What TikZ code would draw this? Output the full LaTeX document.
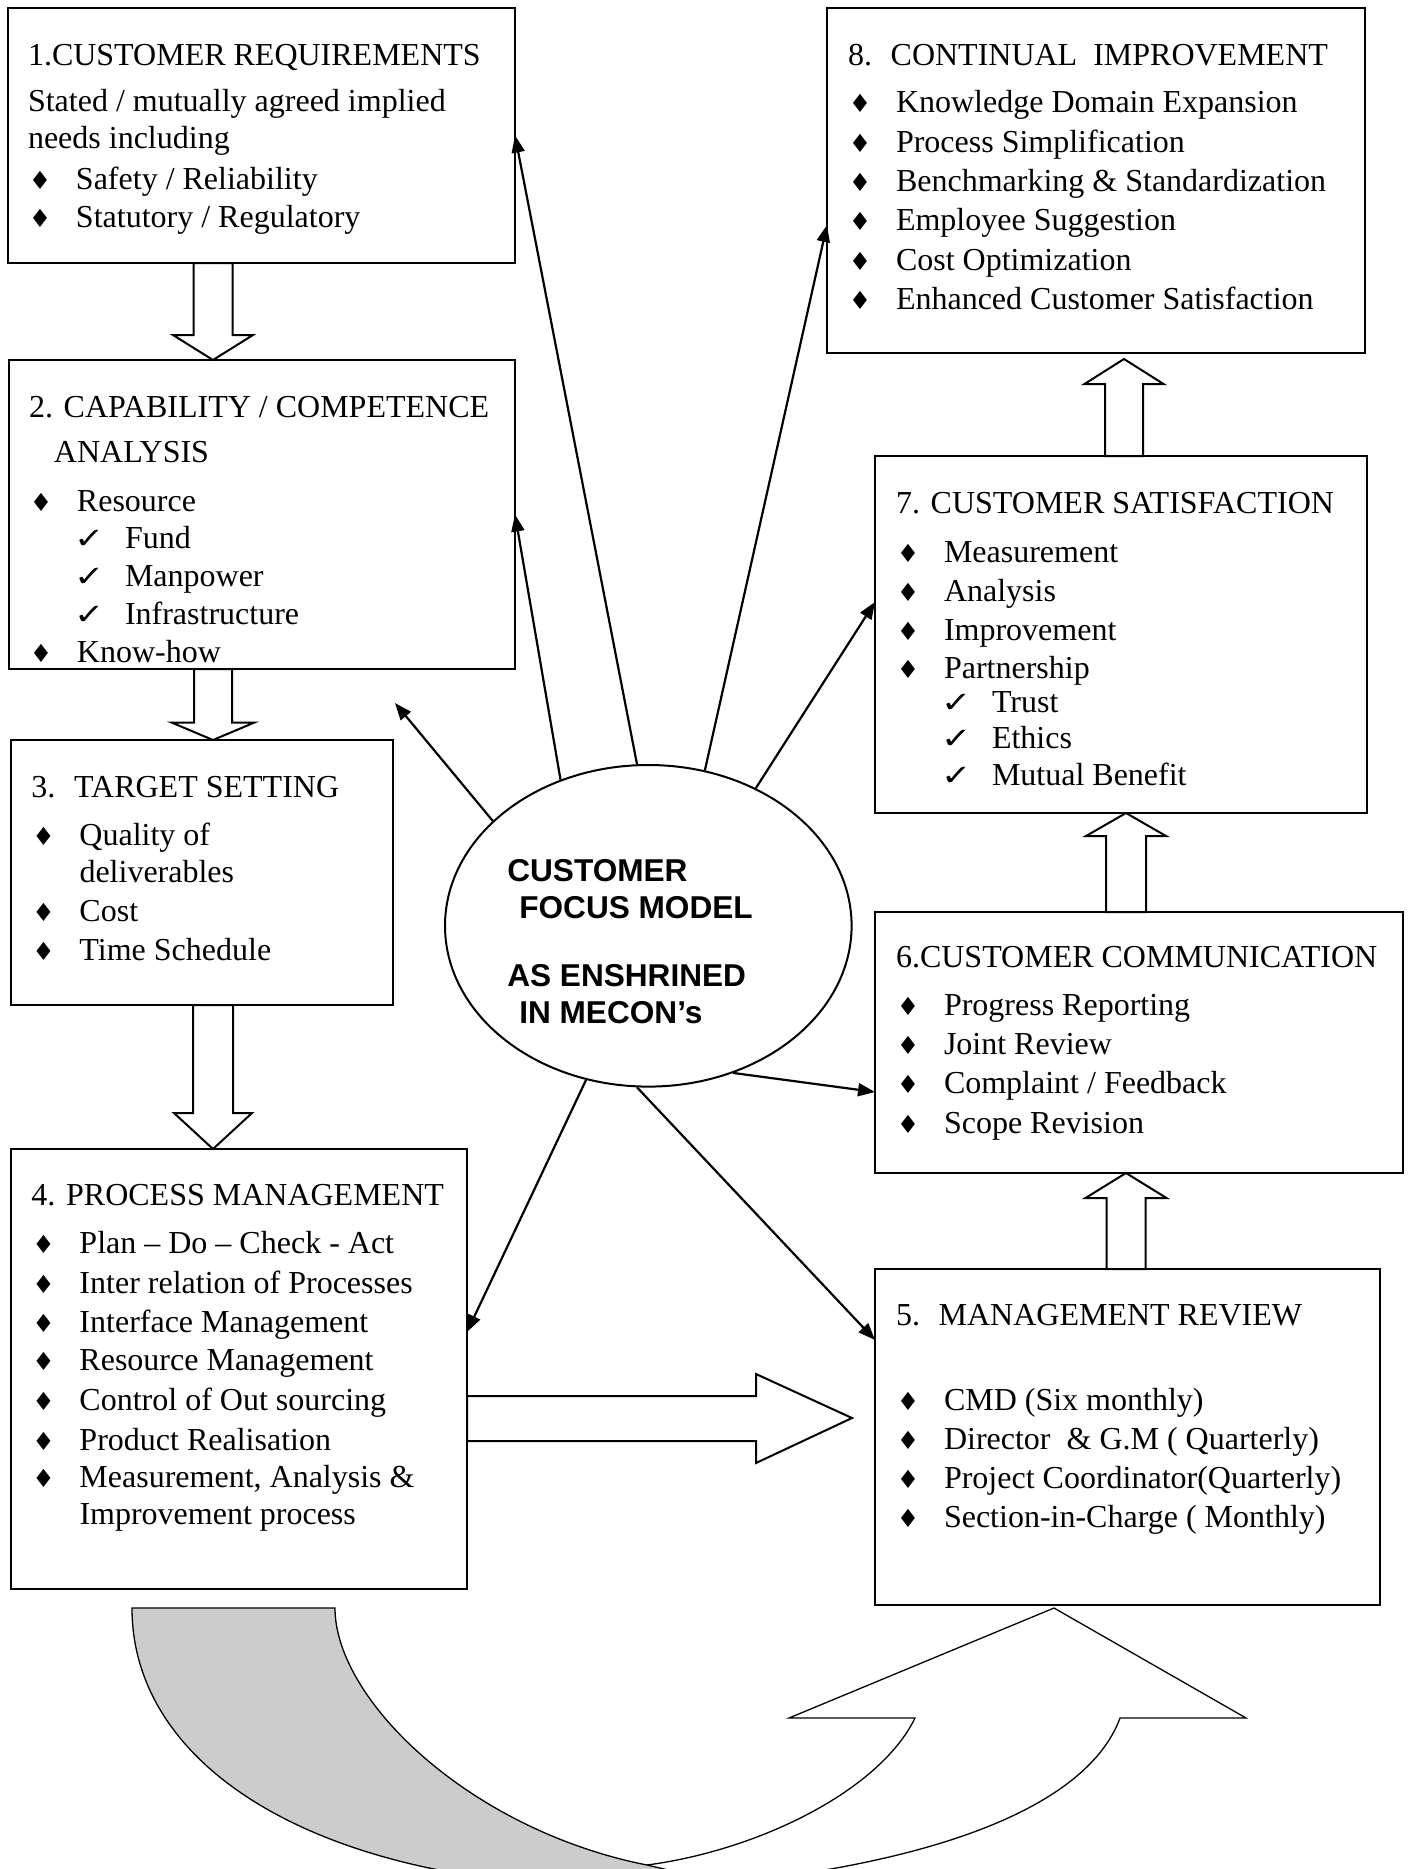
\documentclass[tikz,border=0pt]{standalone}
\usepackage{fontspec}
\setmainfont{Liberation Serif}
\setsansfont{Liberation Sans}
\newfontfamily\mysymf{DejaVu Sans}
\usetikzlibrary{shapes.geometric,arrows.meta,calc}
\newcommand\mydia{{\mysymf\fontsize{12.5pt}{12.5pt}\selectfont ♦}}
\newcommand\mychk{\scalebox{1.25}[1]{\mysymf\fontsize{14.5pt}{14.5pt}\selectfont ✓}}
\newcommand\mybul{\makebox[12pt]{\mydia}\hspace{12pt}}
\newcommand\myckl{\hspace{24.5pt}\makebox[12pt]{\mychk}\hspace{11.5pt}}
\newcommand\mytl[4]{\node[txt] (#1) at (#2,#3) {#4};}
\newcommand\myvarrow[6]{\draw[blk] ({#1-#5},#2) -- ({#1-#5},#3) -- ({#1-#6},#3) -- (#1,#4) -- ({#1+#6},#3) -- ({#1+#5},#3) -- ({#1+#5},#2) -- cycle;}
\begin{document}
\begin{tikzpicture}[x=0.5pt,y=-0.5pt,
  box/.style={draw,line width=1pt,rectangle,inner sep=0pt,outer sep=0pt},
  txt/.style={anchor=base west,inner sep=0pt,outer sep=0pt,font=\fontsize{16pt}{19pt}\selectfont},
  ctx/.style={anchor=base west,inner sep=0pt,outer sep=0pt,font=\sffamily\bfseries\fontsize{15.8pt}{19pt}\selectfont},
  con/.style={line width=1.1pt,-{Triangle[length=8.5pt,width=6.5pt]}},
  blk/.style={draw,line width=1pt,fill=white,line join=miter},
  crv/.style={draw,line width=0.65pt}]
\useasboundingbox (0,0) rectangle (1411,1869);
\clip (0,0) rectangle (1411,1869);

% curved U-turn arrow at bottom
\path[crv,fill=white] (647,1865) .. controls (760,1850) and (880,1790) .. (915,1718) -- (789,1718) -- (1054,1608) -- (1246,1718) -- (1120,1718) .. controls (1090,1800) and (950,1870) .. (650,1890) -- (640,1900) -- cycle;
\path[crv,fill=black!20] (132,1608) .. controls (132,1760) and (300,1870) .. (560,1885) -- (560,1910) -- (800,1910) -- (780,1896) -- (647,1865) .. controls (470,1830) and (335,1700) .. (335,1608) -- cycle;

% boxes
\node[box,minimum width=253.5pt,minimum height=127.5pt] (b1) at (261.5,135.5) {};
\node[box,minimum width=253pt,minimum height=154.5pt] (b2) at (262,514.5) {};
\node[box,minimum width=191pt,minimum height=132.5pt] (b3) at (202,872.5) {};
\node[box,minimum width=228pt,minimum height=220pt] (b4) at (239,1369) {};
\node[box,minimum width=252.5pt,minimum height=168pt] (b5) at (1127.5,1437) {};
\node[box,minimum width=264pt,minimum height=130.5pt] (b6) at (1139,1042.5) {};
\node[box,minimum width=246pt,minimum height=178.5pt] (b7) at (1121,634.5) {};
\node[box,minimum width=269pt,minimum height=172.5pt] (b8) at (1096,180.5) {};

% centre ellipse
\node[draw,ellipse,line width=1pt,minimum width=203.3pt,minimum height=160.8pt,inner sep=0pt] (ell) at (648.3,925.8) {};
\node[ctx] (e1) at (507.3,881.7) {CUSTOMER};
\node[ctx] (e2) at (519.3,918.3) {FOCUS MODEL};
\node[ctx] (e3) at (507.3,986.7) {AS ENSHRINED};
\node[ctx] (e4) at (519.3,1023.3) {IN MECON’s};

% block arrows
\myvarrow{213}{263}{335}{360}{19.5}{40}
\myvarrow{213}{669}{722.7}{740}{19}{41}
\myvarrow{213}{1005}{1113}{1149}{20}{39}
\myvarrow{1126}{1269}{1198}{1173}{19.5}{40.5}
\myvarrow{1126}{912}{836}{813}{20}{40}
\myvarrow{1124}{456}{384}{359}{19}{39.5}
\draw[blk] (467,1396) -- (756,1396) -- (756,1374) -- (852,1418) -- (756,1463) -- (756,1441) -- (467,1441) -- cycle;

% connectors from the ellipse
\coordinate (yC) at (0,225);
\coordinate (yD) at (0,602);
\coordinate (yF) at (0,1092);
\coordinate (yG) at (0,1332);
\coordinate (yH) at (0,1340);
\coordinate (tE) at (395,703);
\draw[con] (ell.121.4) -- (b2.east);
\draw[con] (ell.94.7) -- (b1.east);
\draw[con] (ell.70.2) -- (b8.west |- yC);
\draw[con] (ell.52.5) -- (b7.west |- yD);
\draw[con] (ell.146.4) -- (tE);
\draw[con] (ell.-60.8) -- (b6.west |- yF);
\draw[con] (ell.-112.2) -- (b4.east |- yG);
\draw[con] (ell.-94.7) -- (b5.west |- yH);

% box 1
\mytl{t1a}{28}{65}{1.CUSTOMER REQUIREMENTS}
\mytl{t1b}{28}{111.5}{Stated / mutually agreed implied}
\mytl{t1c}{28}{148}{needs including}
\mytl{t1d}{28}{189}{\mybul Safety / Reliability}
\mytl{t1e}{28}{227}{\mybul Statutory / Regulatory}
% box 2
\mytl{t2a}{29}{417}{2. CAPABILITY / COMPETENCE}
\mytl{t2b}{54}{462}{ANALYSIS}
\mytl{t2c}{29}{511}{\mybul Resource}
\mytl{t2d}{29}{548}{\myckl Fund}
\mytl{t2e}{29}{586.5}{\myckl Manpower}
\mytl{t2f}{29}{624}{\myckl Infrastructure}
\mytl{t2g}{29}{662}{\mybul Know-how}
% box 3
\mytl{t3a}{31.5}{797}{3.~ TARGET SETTING}
\mytl{t3b}{31.5}{845}{\mybul Quality of}
\mytl{t3c}{79.5}{882}{deliverables}
\mytl{t3d}{31.5}{921}{\mybul Cost}
\mytl{t3e}{31.5}{960}{\mybul Time Schedule}
% box 4
\mytl{t4a}{31.5}{1205}{4. PROCESS MANAGEMENT}
\mytl{t4b}{31.5}{1253.5}{\mybul Plan – Do – Check - Act}
\mytl{t4c}{31.5}{1293}{\mybul Inter relation of Processes}
\mytl{t4d}{31.5}{1332}{\mybul Interface Management}
\mytl{t4e}{31.5}{1370.5}{\mybul Resource Management}
\mytl{t4f}{31.5}{1410}{\mybul Control of Out sourcing}
\mytl{t4g}{31.5}{1450}{\mybul Product Realisation}
\mytl{t4h}{31.5}{1487}{\mybul Measurement, Analysis \&}
\mytl{t4i}{79.5}{1524}{Improvement process}
% box 5
\mytl{t5a}{896}{1325}{5.~ MANAGEMENT REVIEW}
\mytl{t5b}{896}{1410}{\mybul CMD (Six monthly)}
\mytl{t5c}{896}{1449}{\mybul Director~ \& G.M ( Quarterly)}
\mytl{t5d}{896}{1488}{\mybul Project Coordinator(Quarterly)}
\mytl{t5e}{896}{1527}{\mybul Section-in-Charge ( Monthly)}
% box 6
\mytl{t6a}{896}{967}{6.CUSTOMER COMMUNICATION}
\mytl{t6b}{896}{1015}{\mybul Progress Reporting}
\mytl{t6c}{896}{1054}{\mybul Joint Review}
\mytl{t6d}{896}{1093.5}{\mybul Complaint / Feedback}
\mytl{t6e}{896}{1133.5}{\mybul Scope Revision}
% box 7
\mytl{t7a}{896}{513}{7. CUSTOMER SATISFACTION}
\mytl{t7b}{896}{562}{\mybul Measurement}
\mytl{t7c}{896}{601}{\mybul Analysis}
\mytl{t7d}{896}{640}{\mybul Improvement}
\mytl{t7e}{896}{678}{\mybul Partnership}
\mytl{t7f}{896}{712}{\myckl Trust}
\mytl{t7g}{896}{748}{\myckl Ethics}
\mytl{t7h}{896}{785}{\myckl Mutual Benefit}
% box 8
\mytl{t8a}{848}{65}{8.~ CONTINUAL~ IMPROVEMENT}
\mytl{t8b}{848}{112}{\mybul Knowledge Domain Expansion}
\mytl{t8c}{848}{152}{\mybul Process Simplification}
\mytl{t8d}{848}{191}{\mybul Benchmarking \& Standardization}
\mytl{t8e}{848}{230.5}{\mybul Employee Suggestion}
\mytl{t8f}{848}{270}{\mybul Cost Optimization}
\mytl{t8g}{848}{309}{\mybul Enhanced Customer Satisfaction}
\end{tikzpicture}
\end{document}
